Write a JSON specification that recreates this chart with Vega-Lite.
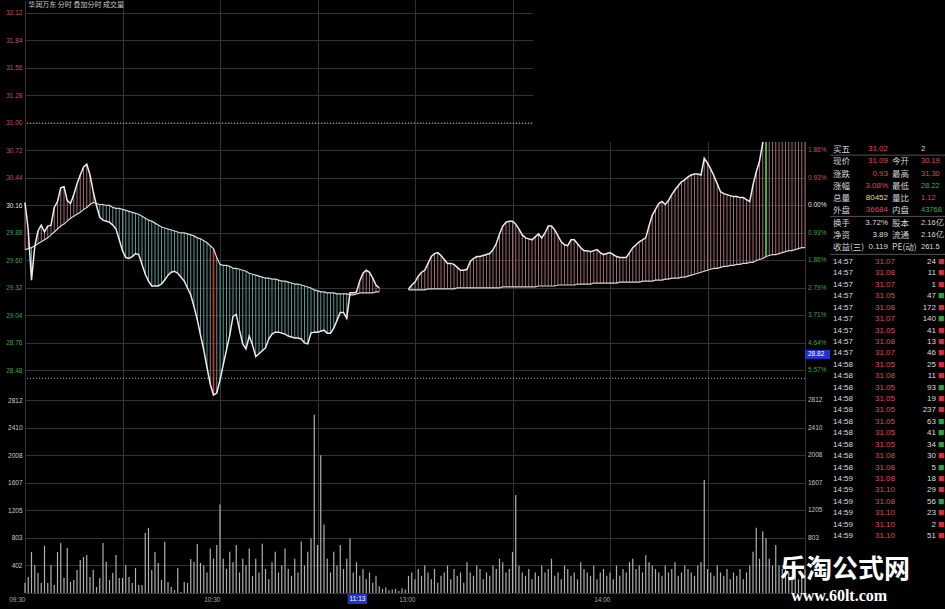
{
"$schema":"https://vega.github.io/schema/vega-lite/v6.json",
"width":780,"height":593,
"autosize":{"type":"none"},
"padding":{"left":25,"top":0,"right":140,"bottom":16},
"background":"#000000",
"config":{"view":{"stroke":null},"font":"Noto Sans CJK SC","axis":{"labelFont":"Liberation Sans"}},
"datasets":{
"d":[
{"m":0,"p":30.19,"a":29.71,"v":150},{"m":1,"p":29.91,"a":29.72,"v":234},{"m":2,"p":29.40,"a":29.73,"v":599},{"m":3,"p":29.74,"a":29.75,"v":409},{"m":4,"p":29.90,"a":29.77,"v":292},{"m":5,"p":29.96,"a":29.79,"v":146},{"m":6,"p":29.89,"a":29.81,"v":687},{"m":7,"p":29.95,"a":29.83,"v":146},{"m":8,"p":29.96,"a":29.86,"v":409},{"m":9,"p":30.14,"a":29.89,"v":117},
{"m":10,"p":30.20,"a":29.92,"v":599},{"m":11,"p":30.34,"a":29.95,"v":731},{"m":12,"p":30.35,"a":29.97,"v":219},{"m":13,"p":30.21,"a":30.00,"v":658},{"m":14,"p":30.18,"a":30.03,"v":161},{"m":15,"p":30.27,"a":30.05,"v":190},{"m":16,"p":30.38,"a":30.07,"v":336},{"m":17,"p":30.47,"a":30.09,"v":482},{"m":18,"p":30.55,"a":30.12,"v":526},{"m":19,"p":30.58,"a":30.14,"v":555},
{"m":20,"p":30.47,"a":30.17,"v":234},{"m":21,"p":30.30,"a":30.19,"v":336},{"m":22,"p":30.16,"a":30.18,"v":88},{"m":23,"p":30.04,"a":30.17,"v":219},{"m":24,"p":30.01,"a":30.17,"v":731},{"m":25,"p":30.00,"a":30.16,"v":453},{"m":26,"p":29.99,"a":30.16,"v":190},{"m":27,"p":29.96,"a":30.14,"v":292},{"m":28,"p":29.92,"a":30.13,"v":555},{"m":29,"p":29.81,"a":30.13,"v":219},
{"m":30,"p":29.70,"a":30.12,"v":219},{"m":31,"p":29.63,"a":30.11,"v":409},{"m":32,"p":29.62,"a":30.10,"v":234},{"m":33,"p":29.64,"a":30.09,"v":146},{"m":34,"p":29.67,"a":30.08,"v":365},{"m":35,"p":29.66,"a":30.07,"v":117},{"m":36,"p":29.56,"a":30.05,"v":117},{"m":37,"p":29.46,"a":30.03,"v":877},{"m":38,"p":29.39,"a":30.01,"v":950},{"m":39,"p":29.34,"a":30.00,"v":336},
{"m":40,"p":29.34,"a":29.98,"v":599},{"m":41,"p":29.34,"a":29.96,"v":439},{"m":42,"p":29.36,"a":29.94,"v":190},{"m":43,"p":29.40,"a":29.93,"v":746},{"m":44,"p":29.45,"a":29.92,"v":161},{"m":45,"p":29.48,"a":29.91,"v":88},{"m":46,"p":29.49,"a":29.90,"v":44},{"m":47,"p":29.47,"a":29.89,"v":365},{"m":48,"p":29.43,"a":29.88,"v":15},{"m":49,"p":29.39,"a":29.88,"v":161},
{"m":50,"p":29.32,"a":29.87,"v":146},{"m":51,"p":29.25,"a":29.86,"v":497},{"m":52,"p":29.13,"a":29.85,"v":453},{"m":53,"p":29.00,"a":29.83,"v":716},{"m":54,"p":28.84,"a":29.82,"v":439},{"m":55,"p":28.69,"a":29.80,"v":400},{"m":56,"p":28.51,"a":29.78,"v":300},{"m":57,"p":28.34,"a":29.75,"v":650},{"m":58,"p":28.23,"a":29.72,"v":500},{"m":59,"p":28.25,"a":29.63,"v":700},
{"m":60,"p":28.38,"a":29.56,"v":1290},{"m":61,"p":28.54,"a":29.55,"v":500},{"m":62,"p":28.69,"a":29.55,"v":350},{"m":63,"p":28.84,"a":29.54,"v":600},{"m":64,"p":29.03,"a":29.52,"v":450},{"m":65,"p":29.05,"a":29.52,"v":700},{"m":66,"p":28.89,"a":29.51,"v":300},{"m":67,"p":28.75,"a":29.50,"v":500},{"m":68,"p":28.70,"a":29.49,"v":400},{"m":69,"p":28.83,"a":29.47,"v":650},
{"m":70,"p":28.74,"a":29.46,"v":250},{"m":71,"p":28.62,"a":29.45,"v":500},{"m":72,"p":28.65,"a":29.44,"v":300},{"m":73,"p":28.68,"a":29.43,"v":720},{"m":74,"p":28.71,"a":29.42,"v":350},{"m":75,"p":28.80,"a":29.42,"v":200},{"m":76,"p":28.85,"a":29.41,"v":450},{"m":77,"p":28.87,"a":29.41,"v":600},{"m":78,"p":28.87,"a":29.40,"v":300},{"m":79,"p":28.86,"a":29.39,"v":400},
{"m":80,"p":28.85,"a":29.39,"v":650},{"m":81,"p":28.83,"a":29.38,"v":350},{"m":82,"p":28.82,"a":29.37,"v":250},{"m":83,"p":28.81,"a":29.36,"v":500},{"m":84,"p":28.81,"a":29.36,"v":300},{"m":85,"p":28.80,"a":29.35,"v":750},{"m":86,"p":28.76,"a":29.34,"v":400},{"m":87,"p":28.75,"a":29.33,"v":600},{"m":88,"p":28.86,"a":29.32,"v":800},{"m":89,"p":28.87,"a":29.30,"v":2600},
{"m":90,"p":28.87,"a":29.29,"v":700},{"m":91,"p":28.88,"a":29.28,"v":2010},{"m":92,"p":28.89,"a":29.28,"v":1000},{"m":93,"p":28.86,"a":29.27,"v":500},{"m":94,"p":28.86,"a":29.27,"v":300},{"m":95,"p":28.91,"a":29.27,"v":600},{"m":96,"p":28.99,"a":29.26,"v":400},{"m":97,"p":29.07,"a":29.26,"v":700},{"m":98,"p":29.07,"a":29.26,"v":350},{"m":99,"p":29.01,"a":29.26,"v":500},
{"m":100,"p":29.27,"a":29.25,"v":800},{"m":101,"p":29.27,"a":29.25,"v":300},{"m":102,"p":29.28,"a":29.26,"v":450},{"m":103,"p":29.39,"a":29.27,"v":250},{"m":104,"p":29.47,"a":29.27,"v":350},{"m":105,"p":29.50,"a":29.27,"v":200},{"m":106,"p":29.48,"a":29.27,"v":300},{"m":107,"p":29.42,"a":29.27,"v":150},{"m":108,"p":29.35,"a":29.28,"v":250},{"m":109,"p":29.32,"a":29.28,"v":100},
{"m":110,"p":null,"a":null,"v":60},{"m":111,"p":null,"a":null,"v":80},{"m":112,"p":null,"a":null,"v":40},{"m":113,"p":null,"a":null,"v":50},{"m":114,"p":null,"a":null,"v":60},{"m":115,"p":null,"a":null,"v":30},{"m":116,"p":null,"a":null,"v":70},{"m":117,"p":null,"a":null,"v":50},{"m":118,"p":29.31,"a":29.30,"v":250},{"m":119,"p":29.35,"a":29.30,"v":300},
{"m":120,"p":29.38,"a":29.30,"v":200},{"m":121,"p":29.44,"a":29.30,"v":350},{"m":122,"p":29.48,"a":29.30,"v":250},{"m":123,"p":29.50,"a":29.30,"v":400},{"m":124,"p":29.57,"a":29.31,"v":300},{"m":125,"p":29.64,"a":29.31,"v":200},{"m":126,"p":29.67,"a":29.31,"v":350},{"m":127,"p":29.68,"a":29.31,"v":150},{"m":128,"p":29.65,"a":29.31,"v":250},{"m":129,"p":29.61,"a":29.31,"v":300},
{"m":130,"p":29.57,"a":29.31,"v":400},{"m":131,"p":29.57,"a":29.31,"v":200},{"m":132,"p":29.56,"a":29.31,"v":350},{"m":133,"p":29.53,"a":29.32,"v":250},{"m":134,"p":29.50,"a":29.32,"v":300},{"m":135,"p":29.50,"a":29.32,"v":150},{"m":136,"p":29.51,"a":29.32,"v":450},{"m":137,"p":29.59,"a":29.32,"v":300},{"m":138,"p":29.62,"a":29.32,"v":250},{"m":139,"p":29.64,"a":29.32,"v":400},
{"m":140,"p":29.64,"a":29.32,"v":350},{"m":141,"p":29.65,"a":29.32,"v":200},{"m":142,"p":29.66,"a":29.32,"v":300},{"m":143,"p":29.67,"a":29.32,"v":250},{"m":144,"p":29.71,"a":29.32,"v":400},{"m":145,"p":29.77,"a":29.32,"v":350},{"m":146,"p":29.87,"a":29.32,"v":500},{"m":147,"p":29.95,"a":29.33,"v":450},{"m":148,"p":29.99,"a":29.33,"v":300},{"m":149,"p":30.00,"a":29.33,"v":350},
{"m":150,"p":30.00,"a":29.33,"v":600},{"m":151,"p":29.97,"a":29.33,"v":1430},{"m":152,"p":29.92,"a":29.33,"v":400},{"m":153,"p":29.86,"a":29.33,"v":300},{"m":154,"p":29.83,"a":29.33,"v":250},{"m":155,"p":29.82,"a":29.33,"v":350},{"m":156,"p":29.81,"a":29.33,"v":200},{"m":157,"p":29.84,"a":29.33,"v":300},{"m":158,"p":29.87,"a":29.34,"v":250},{"m":159,"p":29.83,"a":29.34,"v":400},
{"m":160,"p":29.88,"a":29.34,"v":300},{"m":161,"p":29.95,"a":29.34,"v":350},{"m":162,"p":29.95,"a":29.34,"v":500},{"m":163,"p":29.91,"a":29.34,"v":250},{"m":164,"p":29.85,"a":29.35,"v":300},{"m":165,"p":29.79,"a":29.35,"v":200},{"m":166,"p":29.76,"a":29.35,"v":400},{"m":167,"p":29.75,"a":29.35,"v":350},{"m":168,"p":29.81,"a":29.35,"v":250},{"m":169,"p":29.81,"a":29.35,"v":300},
{"m":170,"p":29.77,"a":29.36,"v":200},{"m":171,"p":29.73,"a":29.36,"v":450},{"m":172,"p":29.70,"a":29.36,"v":350},{"m":173,"p":29.70,"a":29.36,"v":300},{"m":174,"p":29.69,"a":29.36,"v":250},{"m":175,"p":29.70,"a":29.37,"v":400},{"m":176,"p":29.71,"a":29.37,"v":200},{"m":177,"p":29.68,"a":29.37,"v":300},{"m":178,"p":29.66,"a":29.37,"v":350},{"m":179,"p":29.67,"a":29.37,"v":250},
{"m":180,"p":29.68,"a":29.37,"v":300},{"m":181,"p":29.66,"a":29.37,"v":200},{"m":182,"p":29.64,"a":29.37,"v":400},{"m":183,"p":29.63,"a":29.38,"v":250},{"m":184,"p":29.63,"a":29.38,"v":350},{"m":185,"p":29.63,"a":29.38,"v":300},{"m":186,"p":29.68,"a":29.38,"v":450},{"m":187,"p":29.73,"a":29.38,"v":500},{"m":188,"p":29.76,"a":29.38,"v":350},{"m":189,"p":29.79,"a":29.38,"v":400},
{"m":190,"p":29.81,"a":29.39,"v":300},{"m":191,"p":29.83,"a":29.39,"v":550},{"m":192,"p":29.95,"a":29.39,"v":450},{"m":193,"p":30.06,"a":29.39,"v":400},{"m":194,"p":30.12,"a":29.40,"v":350},{"m":195,"p":30.18,"a":29.40,"v":300},{"m":196,"p":30.20,"a":29.40,"v":250},{"m":197,"p":30.17,"a":29.41,"v":400},{"m":198,"p":30.21,"a":29.41,"v":300},{"m":199,"p":30.27,"a":29.42,"v":350},
{"m":200,"p":30.32,"a":29.42,"v":450},{"m":201,"p":30.36,"a":29.42,"v":250},{"m":202,"p":30.40,"a":29.43,"v":300},{"m":203,"p":30.42,"a":29.43,"v":400},{"m":204,"p":30.45,"a":29.44,"v":350},{"m":205,"p":30.47,"a":29.45,"v":300},{"m":206,"p":30.48,"a":29.46,"v":250},{"m":207,"p":30.48,"a":29.47,"v":400},{"m":208,"p":30.47,"a":29.48,"v":450},{"m":209,"p":30.64,"a":29.49,"v":1650},
{"m":210,"p":30.59,"a":29.50,"v":350},{"m":211,"p":30.53,"a":29.51,"v":300},{"m":212,"p":30.46,"a":29.52,"v":250},{"m":213,"p":30.38,"a":29.52,"v":400},{"m":214,"p":30.30,"a":29.53,"v":300},{"m":215,"p":30.28,"a":29.54,"v":250},{"m":216,"p":30.27,"a":29.54,"v":350},{"m":217,"p":30.26,"a":29.55,"v":200},{"m":218,"p":30.25,"a":29.55,"v":300},{"m":219,"p":30.25,"a":29.56,"v":250},
{"m":220,"p":30.24,"a":29.56,"v":350},{"m":221,"p":30.24,"a":29.57,"v":200},{"m":222,"p":30.22,"a":29.57,"v":300},{"m":223,"p":30.20,"a":29.58,"v":400},{"m":224,"p":30.37,"a":29.58,"v":600},{"m":225,"p":30.50,"a":29.60,"v":950},{"m":226,"p":30.61,"a":29.61,"v":500},{"m":227,"p":30.80,"a":29.62,"v":900},{"m":228,"p":30.95,"a":29.64,"v":800},{"m":229,"p":31.00,"a":29.65,"v":500},
{"m":230,"p":31.03,"a":29.66,"v":400},{"m":231,"p":31.05,"a":29.66,"v":700},{"m":232,"p":31.02,"a":29.67,"v":400},{"m":233,"p":31.04,"a":29.68,"v":350},{"m":234,"p":31.06,"a":29.69,"v":500},{"m":235,"p":31.05,"a":29.70,"v":300},{"m":236,"p":31.07,"a":29.70,"v":250},{"m":237,"p":31.08,"a":29.71,"v":400},{"m":238,"p":31.05,"a":29.72,"v":200},{"m":239,"p":31.08,"a":29.73,"v":300},
{"m":240,"p":31.09,"a":29.73,"v":350}
],
"rp":[{"pv":30.72,"t":"1.86%","s":"u"},{"pv":30.44,"t":"0.93%","s":"u"},{"pv":30.16,"t":"0.00%","s":"f"},{"pv":29.88,"t":"0.93%","s":"d"},{"pv":29.60,"t":"1.86%","s":"d"},{"pv":29.32,"t":"2.79%","s":"d"},{"pv":29.04,"t":"3.71%","s":"d"},{"pv":28.76,"t":"4.64%","s":"d"},{"pv":28.48,"t":"5.57%","s":"d"}],
"rv":[{"vv":2812},{"vv":2410},{"vv":2008},{"vv":1607},{"vv":1205},{"vv":803}],
"tb":[
{"r":0,"k1":"买五","v1":"31.02","s1":"u","k2":"","v2":"2","s2":"w"},
{"r":1,"k1":"现价","v1":"31.09","s1":"u","k2":"今开","v2":"30.19","s2":"u"},
{"r":2,"k1":"涨跌","v1":"0.93","s1":"u","k2":"最高","v2":"31.30","s2":"u"},
{"r":3,"k1":"涨幅","v1":"3.08%","s1":"u","k2":"最低","v2":"28.22","s2":"d"},
{"r":4,"k1":"总量","v1":"80452","s1":"y","k2":"量比","v2":"1.12","s2":"u"},
{"r":5,"k1":"外盘","v1":"36684","s1":"u","k2":"内盘","v2":"43768","s2":"d"},
{"r":6,"k1":"换手","v1":"3.72%","s1":"w","k2":"股本","v2":"2.16亿","s2":"w"},
{"r":7,"k1":"净资","v1":"3.89","s1":"w","k2":"流通","v2":"2.16亿","s2":"w"},
{"r":8,"k1":"收益(三)","v1":"0.119","s1":"w","k2":"PE(动)","v2":"261.5","s2":"w"}
],
"tk":[
{"r":0,"t":"14:57","pr":"31.07","vol":"24","bs":"B"},{"r":1,"t":"14:57","pr":"31.08","vol":"11","bs":"B"},{"r":2,"t":"14:57","pr":"31.07","vol":"1","bs":"B"},{"r":3,"t":"14:57","pr":"31.05","vol":"47","bs":"S"},{"r":4,"t":"14:57","pr":"31.08","vol":"172","bs":"B"},
{"r":5,"t":"14:57","pr":"31.07","vol":"140","bs":"S"},{"r":6,"t":"14:57","pr":"31.05","vol":"41","bs":"B"},{"r":7,"t":"14:57","pr":"31.08","vol":"13","bs":"B"},{"r":8,"t":"14:57","pr":"31.07","vol":"46","bs":"B"},{"r":9,"t":"14:58","pr":"31.05","vol":"25","bs":"B"},
{"r":10,"t":"14:58","pr":"31.08","vol":"11","bs":"B"},{"r":11,"t":"14:58","pr":"31.05","vol":"93","bs":"S"},{"r":12,"t":"14:58","pr":"31.05","vol":"19","bs":"B"},{"r":13,"t":"14:58","pr":"31.05","vol":"237","bs":"B"},{"r":14,"t":"14:58","pr":"31.05","vol":"63","bs":"S"},
{"r":15,"t":"14:58","pr":"31.05","vol":"41","bs":"S"},{"r":16,"t":"14:58","pr":"31.05","vol":"34","bs":"S"},{"r":17,"t":"14:58","pr":"31.08","vol":"30","bs":"B"},{"r":18,"t":"14:58","pr":"31.08","vol":"5","bs":"S"},{"r":19,"t":"14:59","pr":"31.08","vol":"18","bs":"B"},
{"r":20,"t":"14:59","pr":"31.10","vol":"29","bs":"B"},{"r":21,"t":"14:59","pr":"31.08","vol":"56","bs":"S"},{"r":22,"t":"14:59","pr":"31.10","vol":"23","bs":"B"},{"r":23,"t":"14:59","pr":"31.10","vol":"2","bs":"B"},{"r":24,"t":"14:59","pr":"31.10","vol":"51","bs":"B"}
]
},
"layer":[
{
"data":{"name":"d"},
"layer":[
{"transform":[{"filter":"isValid(datum.p)"}],
 "mark":{"type":"rule","strokeWidth":1},
 "encoding":{
  "x":{"field":"m","type":"quantitative","scale":{"domain":[0,240],"nice":false,"zero":false},
       "axis":{"title":null,"orient":"bottom","values":[0,30,60,90,120,150,180,210,240],"labelExpr":"datum.value == 0 ? '09:30' : datum.value == 60 ? '10:30' : datum.value == 120 ? '13:00' : datum.value == 180 ? '14:00' : ''","grid":true,"gridColor":"#333333","domain":false,"ticks":false,"labelFontSize":6.5,"labelColor":"#a8a8a8","labelAlign":"right","labelPadding":3,"labelFlush":false,"labelOverlap":false}},
  "y":{"field":"p","type":"quantitative","scale":{"domain":[26.214,32.252],"nice":false,"zero":false},
       "axis":{"title":null,"orient":"left","values":[28.48,28.76,29.04,29.32,29.60,29.88,30.16,30.44,30.72,31.00,31.28,31.56,31.84,32.12],"format":".2f","grid":true,"gridColor":"#333333","domain":false,"ticks":false,"labelFontSize":6.5,"labelPadding":3,"labelOverlap":false,
        "labelColor":{"condition":[{"test":"datum.value > 30.17","value":"#c8505e"},{"test":"datum.value > 30.15","value":"#e0e0e0"}],"value":"#3fa24a"}}},
  "y2":{"field":"a"},
  "color":{"condition":{"test":"datum.p >= datum.a","value":"#a06874"},"value":"#5a9694"}
 }},
{"transform":[{"filter":"datum.m == 58"}],
 "mark":{"type":"rule","strokeWidth":1.6,"color":"#e03030"},
 "encoding":{"x":{"field":"m","type":"quantitative","scale":{"domain":[0,240],"nice":false,"zero":false}},"y":{"field":"p","type":"quantitative","scale":{"domain":[26.214,32.252],"nice":false,"zero":false}},"y2":{"field":"a"}}},
{"transform":[{"filter":"datum.m == 228"}],
 "mark":{"type":"rule","strokeWidth":1.6,"color":"#40d040"},
 "encoding":{"x":{"field":"m","type":"quantitative","scale":{"domain":[0,240],"nice":false,"zero":false}},"y":{"field":"p","type":"quantitative","scale":{"domain":[26.214,32.252],"nice":false,"zero":false}},"y2":{"field":"a"}}},
{"mark":{"type":"line","color":"#d8d8d8","strokeWidth":1.2,"invalid":"break-paths-filter-domains"},
 "encoding":{"x":{"field":"m","type":"quantitative","scale":{"domain":[0,240],"nice":false,"zero":false}},"y":{"field":"a","type":"quantitative","scale":{"domain":[26.214,32.252],"nice":false,"zero":false}}}},
{"mark":{"type":"line","color":"#ececec","strokeWidth":1.5,"invalid":"break-paths-filter-domains"},
 "encoding":{"x":{"field":"m","type":"quantitative","scale":{"domain":[0,240],"nice":false,"zero":false}},"y":{"field":"p","type":"quantitative","scale":{"domain":[26.214,32.252],"nice":false,"zero":false}}}},
{"data":{"values":[{"lv":31.00},{"lv":28.40}]},
 "mark":{"type":"rule","color":"#c89aa4","strokeDash":[1,2],"strokeWidth":1},
 "encoding":{"y":{"field":"lv","type":"quantitative","scale":{"domain":[26.214,32.252],"nice":false,"zero":false}}}},
{"data":{"values":[{}]},
 "mark":{"type":"rect","color":"#000000"},
 "encoding":{"x":{"datum":156.3,"type":"quantitative","scale":{"domain":[0,240],"nice":false,"zero":false}},"x2":{"datum":241},"y":{"datum":30.806,"type":"quantitative","scale":{"domain":[26.214,32.252],"nice":false,"zero":false}},"y2":{"datum":32.4}}},
{"data":{"name":"rp"},
 "mark":{"type":"text","align":"left","baseline":"middle","dx":3,"fontSize":6.5,"font":"Liberation Sans"},
 "encoding":{"x":{"datum":240,"type":"quantitative","scale":{"domain":[0,240],"nice":false,"zero":false}},"y":{"field":"pv","type":"quantitative","scale":{"domain":[26.214,32.252],"nice":false,"zero":false}},"text":{"field":"t"},
  "color":{"field":"s","type":"nominal","scale":{"domain":["u","f","d","w","y"],"range":["#c8505e","#e0e0e0","#3fa24a","#dcdcdc","#e0d878"]},"legend":null}}},
{"data":{"values":[{}]},
 "mark":{"type":"rect","color":"#2233c8"},
 "encoding":{"x":{"datum":240,"type":"quantitative","scale":{"domain":[0,240],"nice":false,"zero":false}},"x2":{"datum":247.7},"y":{"datum":28.69,"type":"quantitative","scale":{"domain":[26.214,32.252],"nice":false,"zero":false}},"y2":{"datum":28.597}}},
{"data":{"values":[{}]},
 "mark":{"type":"text","align":"left","baseline":"middle","dx":3,"fontSize":6.5,"font":"Liberation Sans","color":"#ffffff"},
 "encoding":{"x":{"datum":240,"type":"quantitative","scale":{"domain":[0,240],"nice":false,"zero":false}},"y":{"datum":28.643,"type":"quantitative","scale":{"domain":[26.214,32.252],"nice":false,"zero":false}},"text":{"value":"28.82"}}},
{"data":{"values":[{}]},
 "mark":{"type":"text","align":"left","baseline":"middle","fontSize":7,"color":"#c8c8c8"},
 "encoding":{"x":{"datum":1,"type":"quantitative","scale":{"domain":[0,240],"nice":false,"zero":false}},"y":{"datum":32.20,"type":"quantitative","scale":{"domain":[26.214,32.252],"nice":false,"zero":false}},"text":{"value":"华润万东   分时  叠加分时  成交量"}}}
]
},
{
"data":{"name":"d"},
"layer":[
{"mark":{"type":"rule","color":"#b0b0b0","strokeWidth":1.2},
 "encoding":{"x":{"field":"m","type":"quantitative","scale":{"domain":[0,240],"nice":false,"zero":false},"axis":null},
  "y":{"field":"v","type":"quantitative","scale":{"domain":[0,8650],"nice":false,"zero":false},
       "axis":{"title":null,"orient":"left","values":[0,402,803,1205,1607,2008,2410,2812],"format":"d","labelExpr":"datum.value == 0 ? '' : datum.label","grid":true,"gridColor":"#333333","domain":false,"ticks":false,"labelFontSize":6.5,"labelColor":"#cccccc","labelPadding":3,"labelOverlap":false}},
  "y2":{"datum":0}}},
{"data":{"name":"rv"},
 "mark":{"type":"text","align":"left","baseline":"middle","dx":3,"fontSize":6.5,"font":"Liberation Sans","color":"#c8c8b8"},
 "encoding":{"x":{"datum":240,"type":"quantitative","scale":{"domain":[0,240],"nice":false,"zero":false}},"y":{"field":"vv","type":"quantitative","scale":{"domain":[0,8650],"nice":false,"zero":false}},"text":{"field":"vv","format":"d"}}},
{"data":{"values":[{}]},
 "mark":{"type":"rect","color":"#2233c8"},
 "encoding":{"x":{"datum":99.3,"type":"quantitative","scale":{"domain":[0,240],"nice":false,"zero":false}},"x2":{"datum":105.3},"y":{"datum":-15,"type":"quantitative","scale":{"domain":[0,8650],"nice":false,"zero":false}},"y2":{"datum":-160}}},
{"data":{"values":[{}]},
 "mark":{"type":"text","align":"center","baseline":"middle","fontSize":6.5,"font":"Liberation Sans","color":"#ffffff"},
 "encoding":{"x":{"datum":102.3,"type":"quantitative","scale":{"domain":[0,240],"nice":false,"zero":false}},"y":{"datum":-88,"type":"quantitative","scale":{"domain":[0,8650],"nice":false,"zero":false}},"text":{"value":"11:13"}}},
{"data":{"values":[{}]},
 "mark":{"type":"text","align":"center","baseline":"middle","fontSize":26,"fontWeight":"bold","font":"Noto Sans CJK SC","color":"#ffffff"},
 "encoding":{"x":{"datum":252.3,"type":"quantitative","scale":{"domain":[0,240],"nice":false,"zero":false}},"y":{"datum":335,"type":"quantitative","scale":{"domain":[0,8650],"nice":false,"zero":false}},"text":{"value":"乐淘公式网"}}},
{"data":{"values":[{}]},
 "mark":{"type":"text","align":"center","baseline":"middle","fontSize":16,"fontWeight":"bold","font":"Liberation Serif","color":"#ffffff"},
 "encoding":{"x":{"datum":250.5,"type":"quantitative","scale":{"domain":[0,240],"nice":false,"zero":false}},"y":{"datum":-45,"type":"quantitative","scale":{"domain":[0,8650],"nice":false,"zero":false}},"text":{"value":"www.60lt.com"}}}
]
},
{
"data":{"name":"tb"},
"encoding":{"y":{"field":"r","type":"quantitative","scale":{"domain":[0,8],"range":[149,247],"nice":false,"zero":false},"axis":null}},
"layer":[
{"mark":{"type":"text","align":"left","baseline":"middle","fontSize":8.5,"color":"#d4d4d4"},
 "encoding":{"x":{"datum":0,"type":"quantitative","scale":{"domain":[0,4],"range":[808,920],"nice":false,"zero":false},"axis":null},"text":{"field":"k1"}}},
{"mark":{"type":"text","align":"right","baseline":"middle","dx":-1,"fontSize":8,"font":"Liberation Sans"},
 "encoding":{"x":{"datum":2,"type":"quantitative","scale":{"domain":[0,4],"range":[808,920],"nice":false,"zero":false}},"text":{"field":"v1"},
  "color":{"field":"s1","type":"nominal","scale":{"domain":["u","f","d","w","y"],"range":["#e04858","#e0e0e0","#3fb04a","#dcdcdc","#e6de80"]},"legend":null}}},
{"mark":{"type":"text","align":"left","baseline":"middle","dx":3,"fontSize":8.5,"color":"#d4d4d4"},
 "encoding":{"x":{"datum":2,"type":"quantitative","scale":{"domain":[0,4],"range":[808,920],"nice":false,"zero":false}},"text":{"field":"k2"}}},
{"mark":{"type":"text","align":"left","baseline":"middle","dx":4,"fontSize":7.5,"font":"Liberation Sans"},
 "encoding":{"x":{"datum":3,"type":"quantitative","scale":{"domain":[0,4],"range":[808,920],"nice":false,"zero":false}},"text":{"field":"v2"},
  "color":{"field":"s2","type":"nominal","scale":{"domain":["u","f","d","w","y"],"range":["#e04858","#e0e0e0","#3fb04a","#dcdcdc","#e6de80"]},"legend":null}}},
{"data":{"values":[{"ly":0.5},{"ly":5.5},{"ly":8.6}]},
 "mark":{"type":"rule","color":"#555555","strokeWidth":1},
 "encoding":{"x":{"datum":-0.1,"type":"quantitative","scale":{"domain":[0,4],"range":[808,920],"nice":false,"zero":false}},"x2":{"datum":4.2},"y":{"field":"ly","type":"quantitative","scale":{"domain":[0,8],"range":[149,247],"nice":false,"zero":false}}}}
]
},
{
"data":{"name":"tk"},
"encoding":{"y":{"field":"r","type":"quantitative","scale":{"domain":[0,24],"range":[262,536],"nice":false,"zero":false},"axis":null}},
"layer":[
{"mark":{"type":"text","align":"left","baseline":"middle","fontSize":8,"font":"Liberation Sans","color":"#dcdcdc"},
 "encoding":{"x":{"datum":0,"type":"quantitative","scale":{"domain":[0,4],"range":[808,920],"nice":false,"zero":false},"axis":null},"text":{"field":"t"}}},
{"mark":{"type":"text","align":"right","baseline":"middle","dx":6,"fontSize":8,"font":"Liberation Sans","color":"#e04858"},
 "encoding":{"x":{"datum":2,"type":"quantitative","scale":{"domain":[0,4],"range":[808,920],"nice":false,"zero":false}},"text":{"field":"pr"}}},
{"mark":{"type":"text","align":"right","baseline":"middle","dx":-9,"fontSize":8,"font":"Liberation Sans","color":"#dcdcdc"},
 "encoding":{"x":{"datum":4,"type":"quantitative","scale":{"domain":[0,4],"range":[808,920],"nice":false,"zero":false}},"text":{"field":"vol"}}},
{"mark":{"type":"text","align":"left","baseline":"middle","dx":-7,"fontSize":6.5},
 "encoding":{"x":{"datum":4,"type":"quantitative","scale":{"domain":[0,4],"range":[808,920],"nice":false,"zero":false}},"text":{"value":"■"},
  "color":{"field":"bs","type":"nominal","scale":{"domain":["B","S"],"range":["#d03040","#30a040"]},"legend":null}}}
]
}
],
"resolve":{"scale":{"x":"independent","y":"independent","color":"independent"}}
}
